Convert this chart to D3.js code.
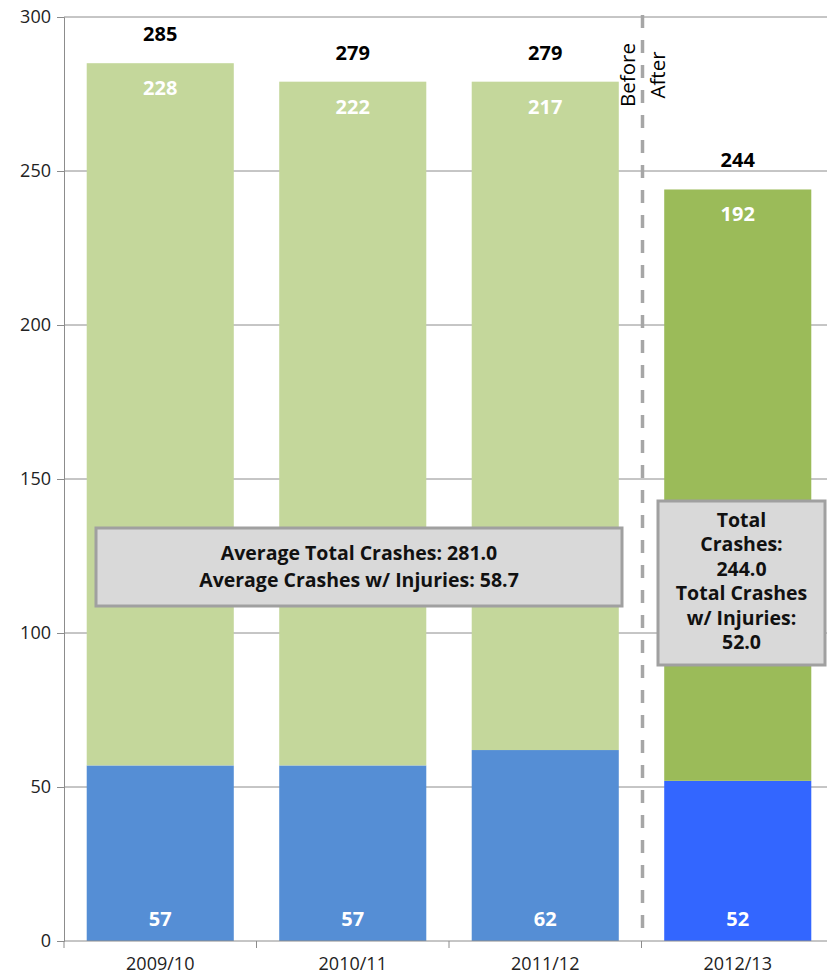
<!DOCTYPE html>
<html>
<head>
<meta charset="utf-8">
<script src="https://cdn.jsdelivr.net/npm/d3@7"></script>
<style>
  html, body { margin: 0; padding: 0; background: #fff; }
  svg { display: block; font-family: "Open Sans", "Noto Sans", "Liberation Sans", sans-serif; }
</style>
</head>
<body>
<svg id="chart" width="827" height="977"></svg>
<script>
// Crash counts per fiscal year
const years = ["2009/10", "2010/11", "2011/12", "2012/13"];
const injuryCrashes = [57, 57, 62, 52];
const otherCrashes = [228, 222, 217, 192];
const totalCrashes = [285, 279, 279, 244];
const yTicks = [0, 50, 100, 150, 200, 250, 300];

const beforeNote = ["Average Total Crashes: 281.0", "Average Crashes w/ Injuries: 58.7"];
const afterNote = ["Total", "Crashes:", "244.0", "Total Crashes", "w/ Injuries:", "52.0"];

// Before-period colours, then after-period colours
const otherColor = ["#C4D79B", "#C4D79B", "#C4D79B", "#9BBB59"];
const injuryColor = ["#558ED5", "#558ED5", "#558ED5", "#3366FF"];

const fontFamily = "'Open Sans', 'Noto Sans', sans-serif";
const svg = d3.select("#chart");
const plotLeft = 64, plotRight = 834, plotTop = 17, plotBottom = 941;

const x = d3.scaleBand().domain(years).range([plotLeft, plotRight]).paddingInner(0.236).paddingOuter(0.118);
const y = d3.scaleLinear().domain([0, 300]).range([plotBottom, plotTop]);

// Horizontal gridlines
svg.append("g").selectAll("line").data(yTicks.filter(d => d > 0)).join("line")
  .attr("x1", plotLeft).attr("x2", 827)
  .attr("y1", d => y(d)).attr("y2", d => y(d))
  .attr("stroke", "#8c8c8c").attr("stroke-width", 1);

// Y axis
const yAxis = svg.append("g").attr("transform", `translate(${plotLeft},0)`)
  .call(d3.axisLeft(y).tickValues(yTicks).tickSize(7).tickPadding(6));
yAxis.select(".domain").attr("stroke", "#8c8c8c");
yAxis.selectAll(".tick line").attr("stroke", "#8c8c8c");
yAxis.selectAll("text").attr("font-size", 18).attr("fill", "#222")
  .attr("font-family", fontFamily);

// Stacked bars
const bars = svg.append("g");
years.forEach((yr, i) => {
  bars.append("rect")
    .attr("x", x(yr)).attr("width", x.bandwidth())
    .attr("y", y(injuryCrashes[i])).attr("height", y(0) - y(injuryCrashes[i]))
    .attr("fill", injuryColor[i]);
  bars.append("rect")
    .attr("x", x(yr)).attr("width", x.bandwidth())
    .attr("y", y(injuryCrashes[i] + otherCrashes[i])).attr("height", y(injuryCrashes[i]) - y(injuryCrashes[i] + otherCrashes[i]))
    .attr("fill", otherColor[i]);
});

// X axis
const xAxis = svg.append("g").attr("transform", `translate(0,${plotBottom})`)
  .call(d3.axisBottom(x).tickSize(0).tickPadding(16));
xAxis.select(".domain").attr("stroke", "#8c8c8c").attr("d", `M${plotLeft},0H${plotRight}`);
xAxis.selectAll("text").attr("font-size", 18).attr("fill", "#222")
  .attr("font-family", fontFamily);
// Category boundary ticks
const bounds = years.map((d, i) => plotLeft + i * x.step()).concat([plotRight]);
svg.append("g").selectAll("line").data(bounds).join("line")
  .attr("x1", d => d).attr("x2", d => d)
  .attr("y1", plotBottom).attr("y2", plotBottom + 7)
  .attr("stroke", "#8c8c8c");

// Value labels
const labels = svg.append("g").attr("font-weight", "bold").attr("text-anchor", "middle").attr("font-size", 20);
years.forEach((yr, i) => {
  const cx = x(yr) + x.bandwidth() / 2;
  labels.append("text").attr("x", cx).attr("y", y(totalCrashes[i]) - 22)
    .attr("fill", "#000").text(totalCrashes[i]);
  labels.append("text").attr("x", cx).attr("y", y(injuryCrashes[i] + otherCrashes[i]) + 32)
    .attr("fill", "#fff").text(otherCrashes[i]);
  labels.append("text").attr("x", cx).attr("y", y(0) - 15)
    .attr("fill", "#fff").text(injuryCrashes[i]);
});

// Before / after divider
const divX = plotLeft + 3 * x.step() + 1;
svg.append("line")
  .attr("x1", divX).attr("x2", divX).attr("y1", 15).attr("y2", 936)
  .attr("stroke", "#a6a6a6").attr("stroke-width", 3.5)
  .attr("stroke-dasharray", "13,12");
svg.append("text").attr("transform", `translate(${divX - 8},75) rotate(-90)`)
  .attr("text-anchor", "middle").attr("font-size", 20.5).attr("fill", "#000").text("Before");
svg.append("text").attr("transform", `translate(${divX + 22},75) rotate(-90)`)
  .attr("text-anchor", "middle").attr("font-size", 20.5).attr("fill", "#000").text("After");

// Summary boxes
function noteBox(lines, bx, by, bw, bh, firstY, lineH) {
  const g = svg.append("g");
  g.append("rect").attr("x", bx).attr("y", by).attr("width", bw).attr("height", bh)
    .attr("fill", "#d9d9d9").attr("stroke", "#a0a0a0").attr("stroke-width", 3);
  g.selectAll("text").data(lines).join("text")
    .attr("x", bx + bw / 2).attr("y", (d, i) => firstY + i * lineH)
    .attr("text-anchor", "middle").attr("font-size", 19.5).attr("font-weight", "bold")
    .attr("fill", "#111").text(d => d);
}
noteBox(beforeNote, 96, 528, 526, 78, 560, 27);
noteBox(afterNote, 658, 501, 167, 164, 527, 24.4);
</script>
</body>
</html>
